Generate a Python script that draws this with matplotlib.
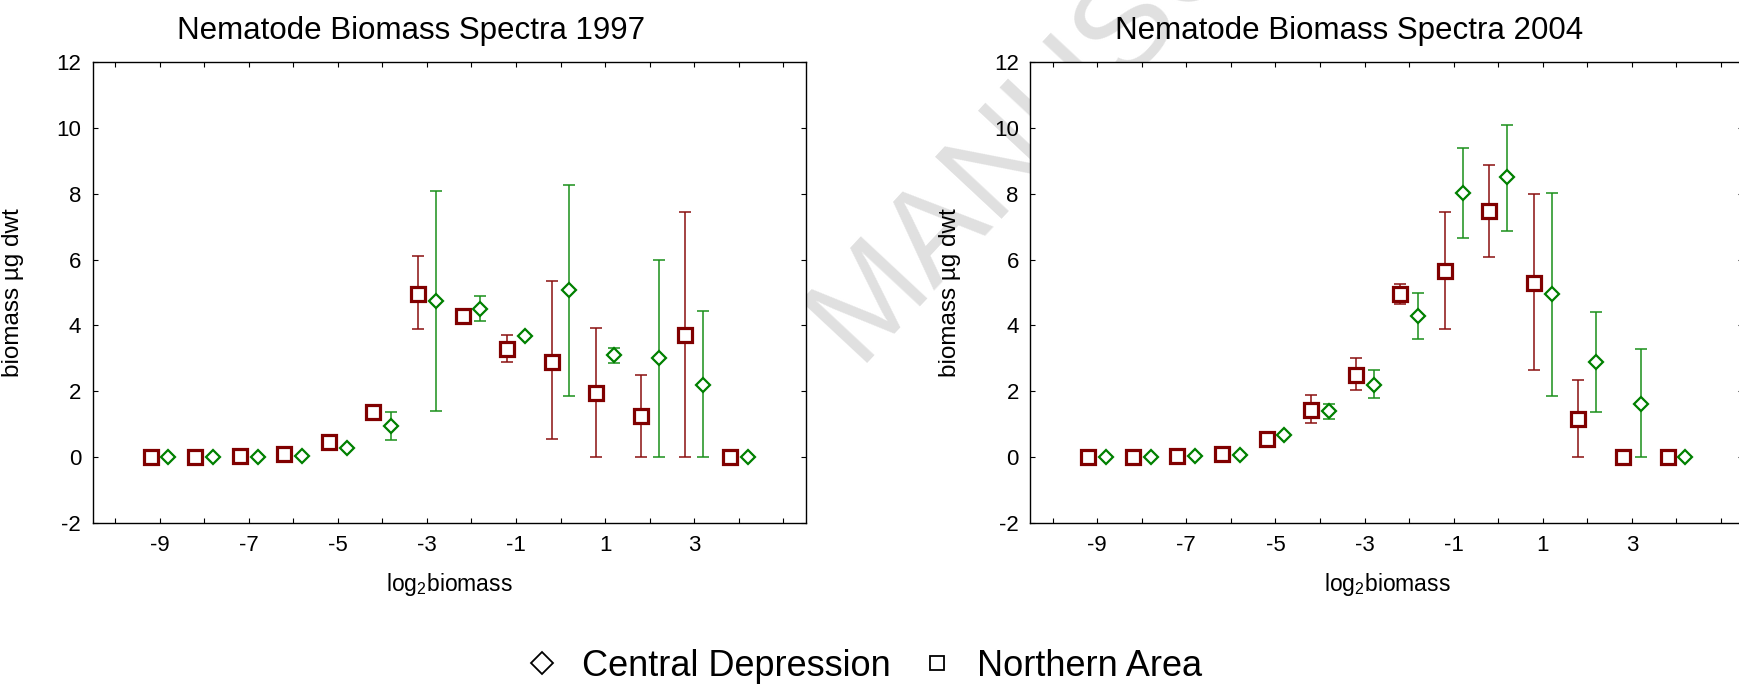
import numpy as np
import matplotlib
matplotlib.use("Agg")
import matplotlib.pyplot as plt
from matplotlib.lines import Line2D

plt.rcParams['font.family'] = ['Liberation Sans', 'DejaVu Sans']
plt.rcParams['mathtext.fontset'] = 'custom'
plt.rcParams['mathtext.rm'] = 'Liberation Sans'
plt.rcParams['mathtext.default'] = 'regular'
plt.rcParams['axes.unicode_minus'] = False

# log2 biomass classes
bins = np.arange(-9, 5)

# 1997 - Northern Area (squares)
nor97 = [0.0, 0.0, 0.02, 0.09, 0.45, 1.38, 4.95, 4.30, 3.28, 2.90, 1.95, 1.25, 3.72, 0.0]
nor97_lo = [np.nan, np.nan, np.nan, np.nan, np.nan, np.nan, 3.90, np.nan, 2.89, 0.54, 0.0, 0.0, 0.0, np.nan]
nor97_hi = [np.nan, np.nan, np.nan, np.nan, np.nan, np.nan, 6.12, np.nan, 3.72, 5.36, 3.92, 2.49, 7.45, np.nan]
# 1997 - Central Depression (diamonds)
cen97 = [0.0, 0.0, 0.0, 0.03, 0.27, 0.94, 4.75, 4.49, 3.68, 5.07, 3.09, 3.01, 2.20, 0.0]
cen97_lo = [np.nan, np.nan, np.nan, np.nan, np.nan, 0.52, 1.41, 4.12, np.nan, 1.86, 2.86, 0.0, 0.0, np.nan]
cen97_hi = [np.nan, np.nan, np.nan, np.nan, np.nan, 1.38, 8.09, 4.88, np.nan, 8.26, 3.33, 5.98, 4.44, np.nan]

# 2004 - Northern Area (squares)
nor04 = [0.0, 0.0, 0.02, 0.09, 0.54, 1.43, 2.51, 4.94, 5.64, 7.48, 5.29, 1.16, 0.0, 0.0]
nor04_lo = [np.nan, np.nan, np.nan, np.nan, np.nan, 1.05, 2.05, 4.65, 3.88, 6.09, 2.66, 0.0, np.nan, np.nan]
nor04_hi = [np.nan, np.nan, np.nan, np.nan, np.nan, 1.88, 3.00, 5.26, 7.45, 8.87, 7.99, 2.34, np.nan, np.nan]
# 2004 - Central Depression (diamonds)
cen04 = [0.0, 0.0, 0.02, 0.07, 0.66, 1.39, 2.20, 4.28, 8.01, 8.50, 4.95, 2.89, 1.62, 0.0]
cen04_lo = [np.nan, np.nan, np.nan, np.nan, np.nan, 1.17, 1.81, 3.60, 6.65, 6.86, 1.85, 1.36, 0.0, np.nan]
cen04_hi = [np.nan, np.nan, np.nan, np.nan, np.nan, 1.60, 2.66, 4.99, 9.40, 10.10, 8.03, 4.42, 3.27, np.nan]

titles = ["Nematode Biomass Spectra 1997", "Nematode Biomass Spectra 2004"]

RED = '#800000'
GREEN = '#008000'


def draw_series(ax, x, y, lo, hi, marker, color, ecolor, ms, mew):
    x = np.asarray(x, float)
    y = np.asarray(y, float)
    lo = np.asarray(lo, float)
    hi = np.asarray(hi, float)
    m = ~np.isnan(lo)
    ax.errorbar(x[m], y[m], yerr=[y[m] - lo[m], hi[m] - y[m]], fmt='none',
                ecolor=ecolor, elinewidth=1.1, capsize=4, capthick=1.1, zorder=2)
    ax.plot(x, y, linestyle='none', marker=marker, mfc='white', mec=color,
            ms=ms, mew=mew, zorder=3, clip_on=False)


fig = plt.figure(figsize=(17.4, 6.86), dpi=100)
ax1 = fig.add_axes([0.05328, 0.2376, 0.4097, 0.6720])
ax2 = fig.add_axes([0.5922, 0.2376, 0.4097, 0.6720])

panels = [(ax1, nor97, nor97_lo, nor97_hi, cen97, cen97_lo, cen97_hi),
          (ax2, nor04, nor04_lo, nor04_hi, cen04, cen04_lo, cen04_hi)]

for i, (ax, nv, nlo, nhi, cv, clo, chi) in enumerate(panels):
    draw_series(ax, bins - 0.2, nv, nlo, nhi, 's', RED, '#8a1010', 10.2, 2.3)
    draw_series(ax, bins + 0.2, cv, clo, chi, 'D', GREEN, '#1a8f1a', 7.4, 1.6)

    ax.set_xlim(-10.5, 5.5)
    ax.set_ylim(-2, 12)
    xt = np.arange(-10, 6)
    ax.set_xticks(xt)
    ax.set_xticklabels([str(v) if (v % 2 != 0 and -9 <= v <= 3) else '' for v in xt])
    ax.set_yticks(np.arange(-2, 13, 2))
    ax.tick_params(direction='in', length=3.3, width=0.8, top=True, right=True,
                   labelsize=16, pad=8.4)
    for s in ax.spines.values():
        s.set_linewidth(1.0)
    ax.set_xlabel('log$_2$biomass', fontsize=16.5, labelpad=11)
    ax.set_ylabel('biomass µg dwt', fontsize=17.5)
    ax.yaxis.set_label_coords(-0.097, 0.5)
    ax.set_title(titles[i], fontsize=22.5, x=0.447, pad=16.5)

# watermark, partly hidden behind the panels
fig.text(0.492, 0.47, 'MANUSC', fontsize=95, color='#e0e0e0', rotation=47,
         ha='left', va='baseline', rotation_mode='anchor', zorder=-1)

handles = [Line2D([], [], linestyle='none', marker='D', mfc='white', mec='black', ms=11, mew=1.3),
           Line2D([], [], linestyle='none', marker='s', mfc='white', mec='black', ms=9.5, mew=1.3)]
fig.legend(handles, ['Central Depression', 'Northern Area'], loc='center',
           bbox_to_anchor=(0.496, 0.029), ncol=2, frameon=False, fontsize=26,
           handlelength=1.0, handletextpad=0.6, columnspacing=0.8, borderpad=0)

fig.savefig('out.png', dpi=100, facecolor='white')
